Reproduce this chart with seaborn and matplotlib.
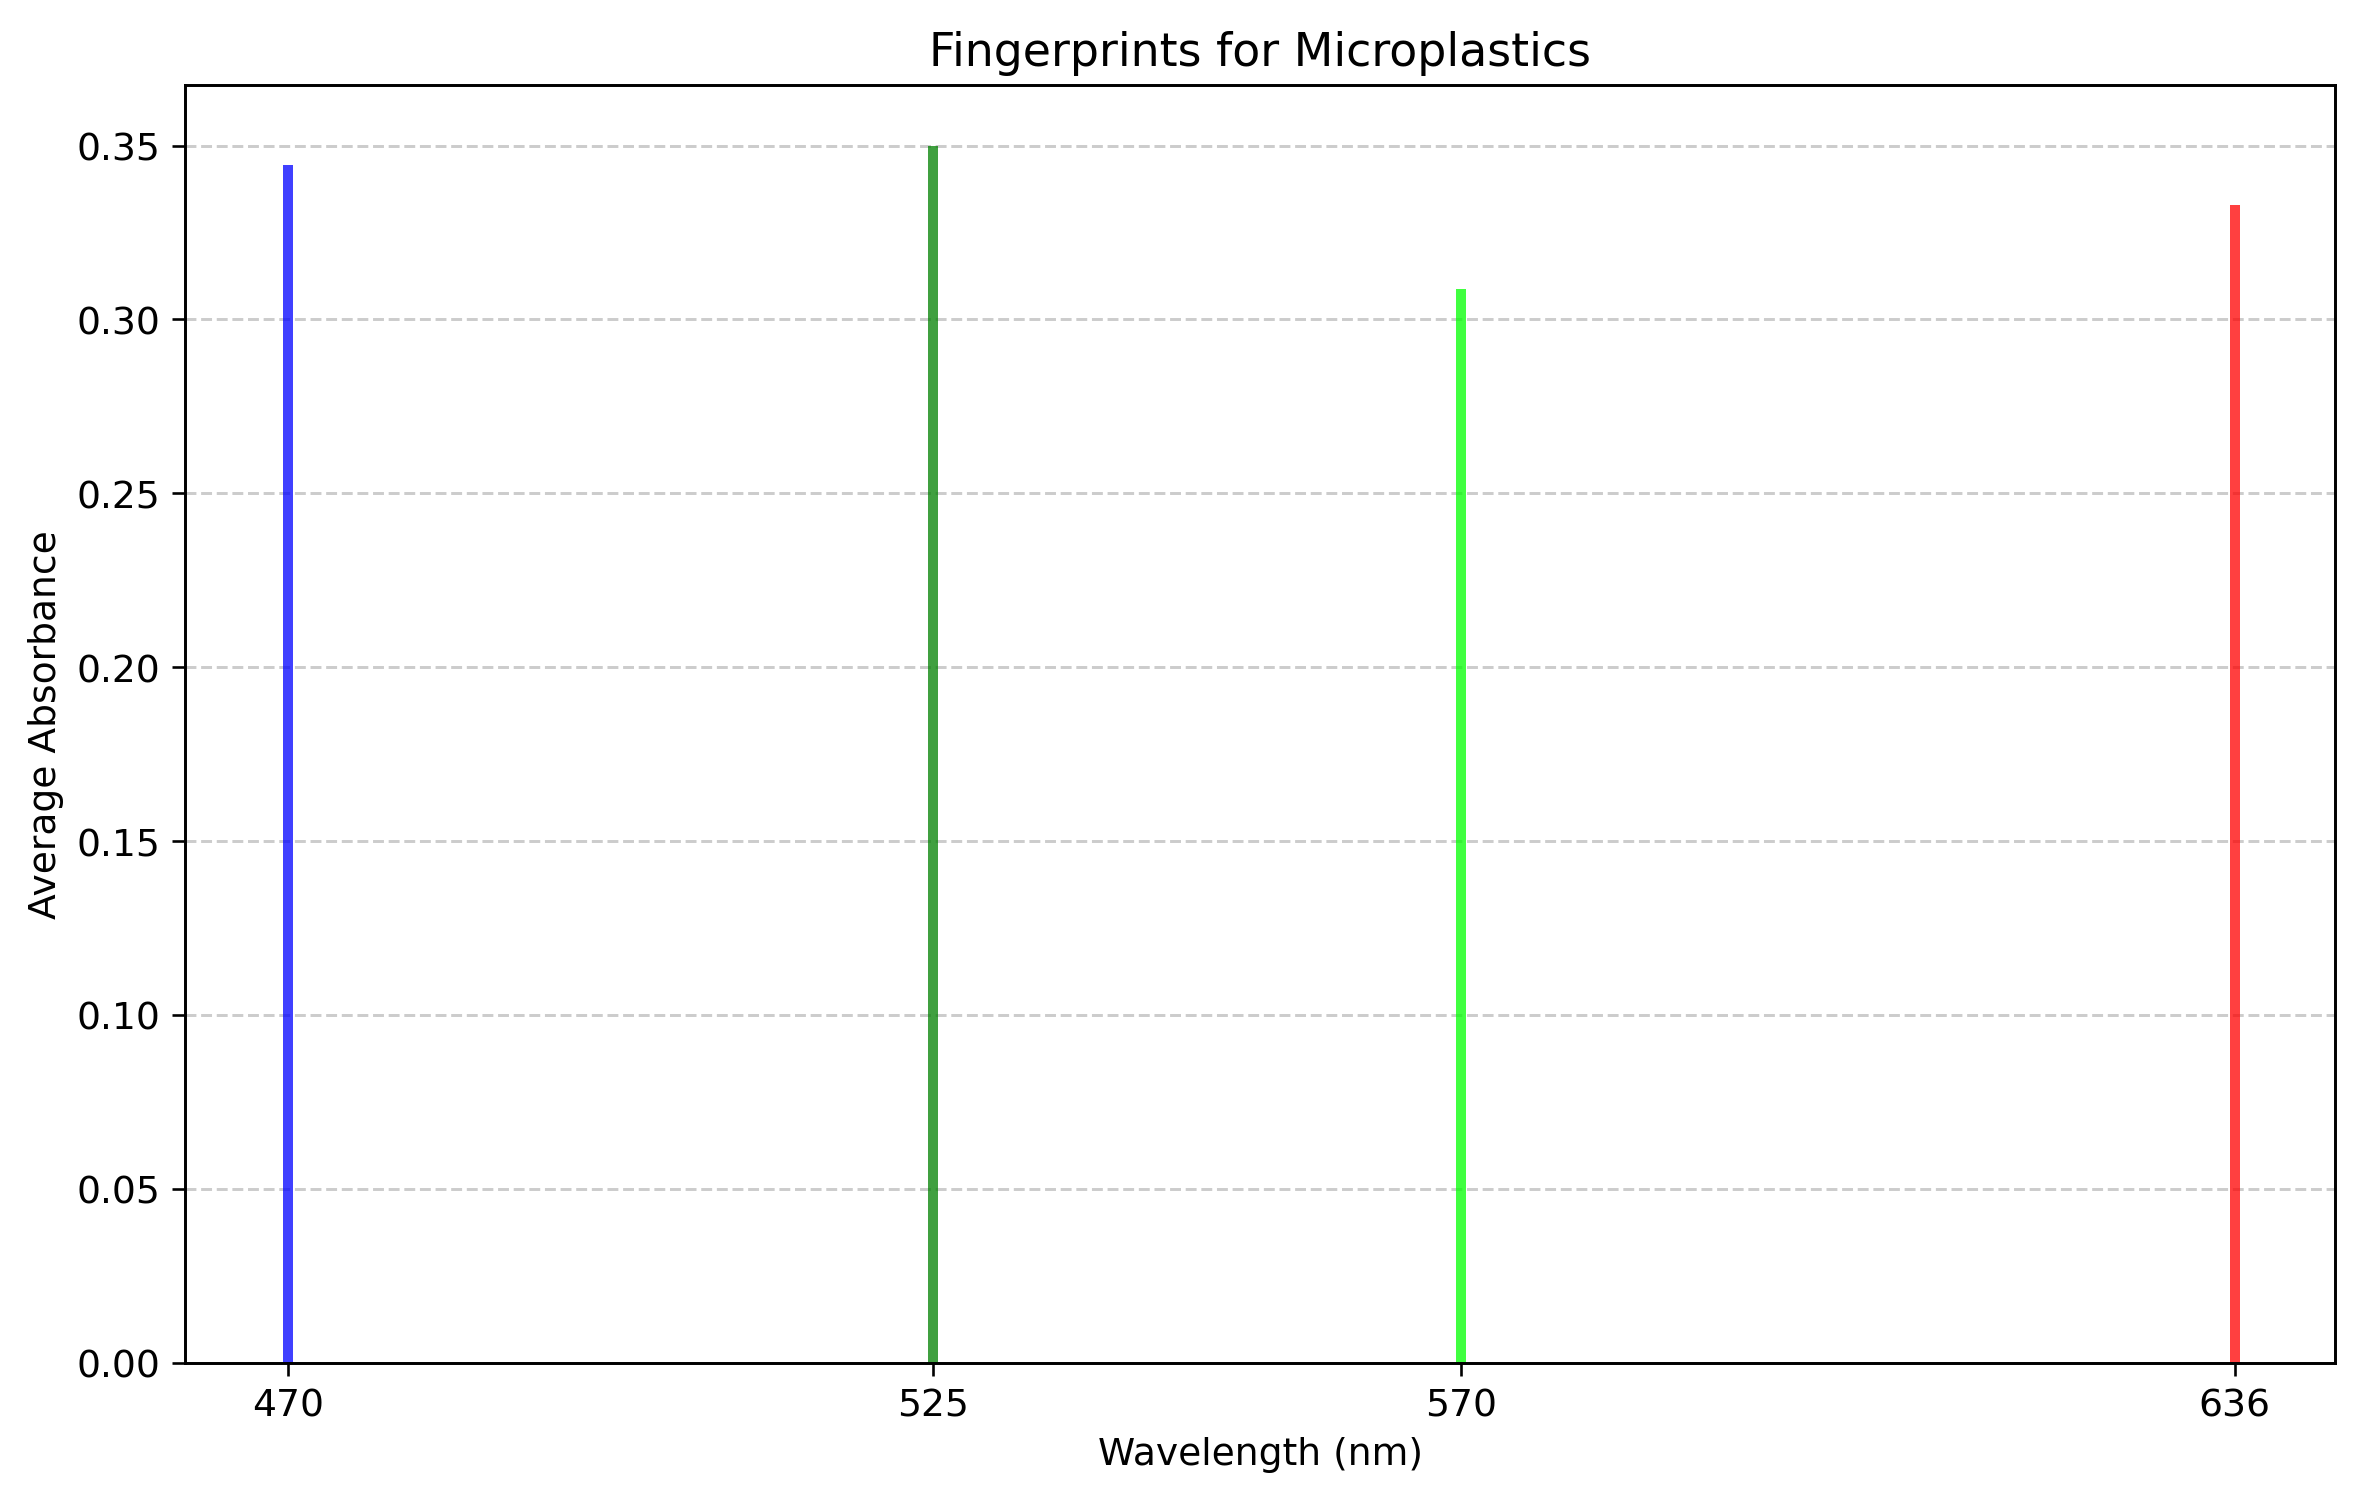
import matplotlib
matplotlib.use("Agg")
import matplotlib.pyplot as plt
import seaborn as sns
import pandas as pd

# LED wavelengths and the averaged absorbance read at each one
wavelengths = [470, 525, 570, 636]
absorbance = [0.3445, 0.3500, 0.3088, 0.3329]
bar_colors = ["blue", "green", "lime", "red"]

sns.set_style("ticks")
plt.rcParams["font.family"] = ["DejaVu Sans"]

df = pd.DataFrame({"Wavelength": wavelengths, "Absorbance": absorbance})
df["Wavelength"] = df["Wavelength"].astype(float)

fig, ax = plt.subplots(figsize=(10, 6.367), dpi=235.9)
fig.subplots_adjust(left=0.0785, right=0.990, top=0.943, bottom=0.092)

# native_scale keeps the nm axis numeric, width is a fraction of the 45 nm min gap
sns.barplot(data=df, x="Wavelength", y="Absorbance", hue="Wavelength",
            palette=dict(zip(df["Wavelength"], bar_colors)), native_scale=True,
            width=0.85 / 45, dodge=False, errorbar=None, legend=False,
            saturation=1, alpha=0.75, linewidth=0, ax=ax)

ax.set_xlim(461.2, 644.6)
ax.set_ylim(0, 0.3675)
ax.set_xticks(wavelengths)
ax.set_xticklabels([str(w) for w in wavelengths])
ax.set_yticks([0.0, 0.05, 0.10, 0.15, 0.20, 0.25, 0.30, 0.35])
ax.set_yticklabels(["0.00", "0.05", "0.10", "0.15", "0.20", "0.25", "0.30", "0.35"])
ax.tick_params(colors="black", labelsize=11.5, length=4)
for s in ax.spines.values():
    s.set_color("black")
    s.set_linewidth(0.9)

ax.grid(axis="y", linestyle="--", color="gray", alpha=0.4, linewidth=0.9)
ax.set_axisbelow(True)

ax.set_title("Fingerprints for Microplastics", fontsize=14, color="black")
ax.set_xlabel("Wavelength (nm)", fontsize=11.5, color="black")
ax.set_ylabel("Average Absorbance", fontsize=11.5, color="black")

plt.savefig("out.png", dpi=235.9)
